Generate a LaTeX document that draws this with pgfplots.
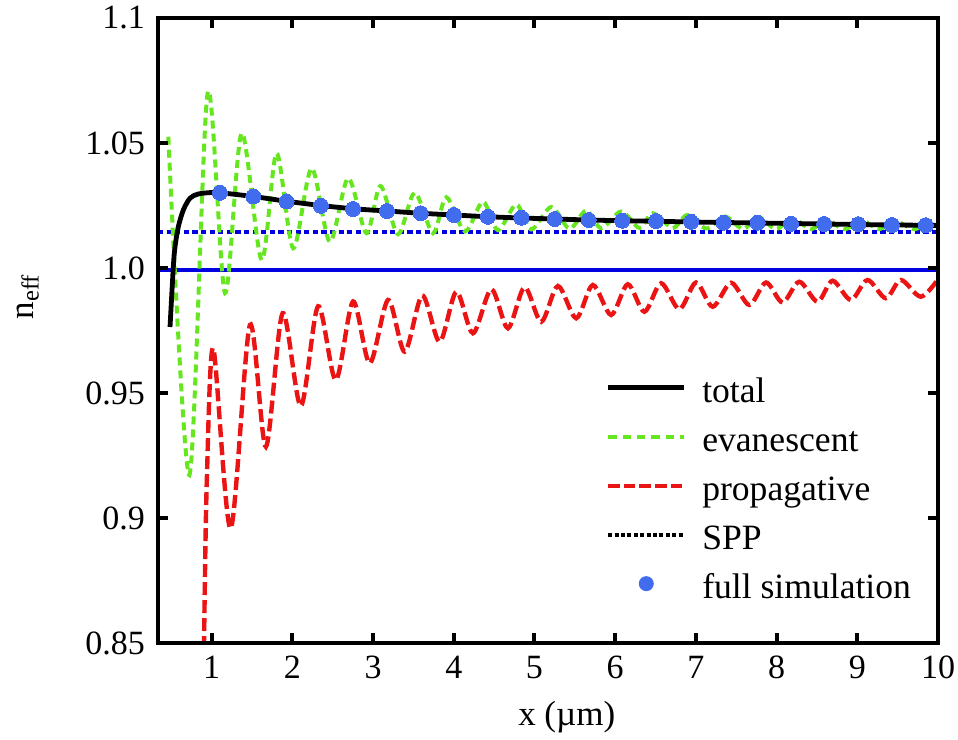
\documentclass[border=0pt]{standalone}
\usepackage{fontspec}
\setmainfont{Liberation Serif}
\usepackage{pgfplots}
\pgfplotsset{compat=1.18}
\definecolor{evgreen}{RGB}{102,230,30}
\definecolor{prred}{RGB}{235,20,20}
\definecolor{sppblue}{RGB}{0,0,225}
\definecolor{dotblue}{RGB}{66,108,238}
\begin{document}
\begin{tikzpicture}
\path[use as bounding box] (-79pt,-48pt) rectangle (400pt,321.5pt);
\begin{axis}[
  at={(0,0)}, anchor=south west,
  scale only axis, width=390pt, height=312.5pt,
  xmin=0.335, xmax=10, ymin=0.85, ymax=1.1,
  axis line style={line width=2pt},
  tick align=inside,
  major tick length=5pt,
  every tick/.style={line width=2pt, black},
  xtick={1,2,3,4,5,6,7,8,9,10},
  xticklabels={1,2,3,4,5,6,7,8,9,10},
  ytick={0.85,0.9,0.95,1.0,1.05,1.1},
  yticklabels={0.85,0.9,0.95,1.0,1.05,1.1},
  every tick label/.append style={font=\fontsize{17}{20}\selectfont},
  xticklabel style={yshift=-3pt},
  yticklabel style={xshift=-3pt},
  xlabel={x (µm)},
  ylabel={n\textsubscript{eff}},
  label style={font=\fontsize{17.5}{20}\selectfont},
  xlabel style={at={(axis description cs:0.524,0)}, anchor=center, yshift=-37pt},
  ylabel style={at={(axis description cs:-0.167,0.554)}, anchor=center},
  clip=true,
  axis on top,
  legend style={at={(rel axis cs:0.566,0.43)}, anchor=north west, draw=none, fill=none,
    font=\fontsize{17.8}{20}\selectfont, row sep=8.5pt,
    nodes={inner sep=0pt, text height=12pt, text depth=4pt}},
  legend cell align=left,
]
% SPP reference lines
\addplot[forget plot, sppblue, line width=2pt] coordinates {(0.335,0.9992) (10,0.9992)};
\addplot[forget plot, sppblue, line width=2pt, dash pattern=on 2.6pt off 1.7pt] coordinates {(0.335,1.0145) (10,1.0145)};
% propagative
\addplot[forget plot, prred, line width=2.2pt, dash pattern=on 6.5pt off 2.5pt, smooth] coordinates {
(0.880,0.790) (0.905,0.850) (0.940,0.915) (1.020,0.9679)
(1.235,0.8958) (1.474,0.9772) (1.672,0.9285) (1.879,0.9819) (2.105,0.9448) (2.319,0.9847)
(2.538,0.9552) (2.752,0.9866) (2.959,0.9619) (3.186,0.9872) (3.392,0.9665) (3.609,0.9890)
(3.825,0.9705) (4.032,0.9905) (4.238,0.9739) (4.465,0.9915) (4.671,0.9759) (4.877,0.9923)
(5.084,0.9785) (5.290,0.9928) (5.517,0.9799) (5.723,0.9932) (5.950,0.9812) (6.156,0.9935)
(6.362,0.9825) (6.569,0.9939) (6.795,0.9835) (7.002,0.9942) (7.208,0.9845) (7.436,0.9941)
(7.662,0.9852) (7.869,0.9942) (8.074,0.9862) (8.281,0.9945) (8.507,0.9865) (8.693,0.9949)
(8.920,0.9872) (9.126,0.9952) (9.353,0.9879) (9.540,0.9952) (9.787,0.9885) (10.0,0.9955)};
% evanescent
\addplot[forget plot, evgreen, line width=2pt, dash pattern=on 4pt off 2.5pt, smooth] coordinates {
(0.463,1.0525) (0.723,0.9172) (0.950,1.0700) (1.165,0.9900) (1.371,1.0539) (1.619,1.0032)
(1.804,1.0459) (2.010,1.0079) (2.238,1.0399) (2.464,1.0105) (2.691,1.0359) (2.918,1.0139)
(3.092,1.0328) (3.309,1.0135) (3.516,1.0301) (3.743,1.0139) (3.908,1.0283) (4.140,1.0146)
(4.361,1.0265) (4.547,1.0151) (4.775,1.0254) (4.960,1.0154) (5.208,1.0244) (5.434,1.0157)
(5.641,1.0230) (5.827,1.0159) (6.074,1.0226) (6.301,1.0160) (6.465,1.0219) (6.713,1.0160)
(6.895,1.0212) (7.130,1.0158) (7.360,1.0206) (7.580,1.0157) (7.790,1.0201) (7.990,1.0156)
(8.200,1.0197) (8.430,1.0155) (8.610,1.0194) (8.840,1.0155) (9.050,1.0191) (9.270,1.0155)
(9.460,1.0189) (9.710,1.0155) (9.890,1.0187) (10.0,1.0178)};
% total
\addplot[forget plot, black, line width=2.4pt, smooth] coordinates {
(0.484,0.9764) (0.525,1.0005) (0.546,1.0085) (0.587,1.0165) (0.649,1.0232) (0.731,1.0279)
(0.834,1.0296) (1.000,1.0302) (1.103,1.0301) (1.515,1.0286) (1.928,1.0267) (2.353,1.0250)
(2.752,1.0237) (3.173,1.0228) (3.590,1.0219) (4.002,1.0212) (4.423,1.0205) (4.837,1.0200)
(5.249,1.0196) (5.670,1.0192) (6.087,1.0189) (6.507,1.0187) (6.941,1.0184) (7.344,1.0182)
(7.765,1.0180) (8.178,1.0178) (8.590,1.0176) (9.011,1.0174) (9.428,1.0172) (9.849,1.0171)
(10.0,1.0170)};
% full simulation
\addplot[forget plot, only marks, mark=*, mark size=3.75pt, mark options={fill=dotblue, draw=dotblue, line width=0pt}] coordinates {
(1.103,1.0301) (1.515,1.0286) (1.928,1.0266) (2.353,1.0249) (2.752,1.0236) (3.173,1.0228)
(3.590,1.0219) (4.002,1.0212) (4.423,1.0205) (4.837,1.0201) (5.249,1.0196) (5.670,1.0192)
(6.087,1.0189) (6.507,1.0188) (6.941,1.0185) (7.344,1.0181) (7.765,1.0181) (8.178,1.0177)
(8.590,1.0176) (9.011,1.0175) (9.428,1.0172) (9.849,1.0171)};
% legend
\addlegendimage{legend image code/.code={\path[draw=none,fill=none] (0pt,0pt) -- (47pt,0pt); \draw[black, line width=2.4pt, solid] (0pt,3.5pt) -- (38pt,3.5pt);}}
\addlegendentry{total}
\addlegendimage{legend image code/.code={\path[draw=none,fill=none] (0pt,0pt) -- (47pt,0pt); \draw[evgreen, line width=2pt, dash pattern=on 4.2pt off 3pt] (0pt,3.5pt) -- (38pt,3.5pt);}}
\addlegendentry{evanescent}
\addlegendimage{legend image code/.code={\path[draw=none,fill=none] (0pt,0pt) -- (47pt,0pt); \draw[prred, line width=2pt, dash pattern=on 5.8pt off 2pt] (0pt,3.5pt) -- (38pt,3.5pt);}}
\addlegendentry{propagative}
\addlegendimage{legend image code/.code={\path[draw=none,fill=none] (0pt,0pt) -- (47pt,0pt); \draw[black, line width=2pt, dash pattern=on 2pt off 1.2pt] (0pt,3.5pt) -- (38pt,3.5pt);}}
\addlegendentry{SPP}
\addlegendimage{legend image code/.code={\path[draw=none,fill=none] (0pt,0pt) -- (47pt,0pt); \fill[dotblue, draw=none] (19pt,3.5pt) circle (3.75pt);}}
\addlegendentry{full simulation}
\end{axis}
\end{tikzpicture}
\end{document}
